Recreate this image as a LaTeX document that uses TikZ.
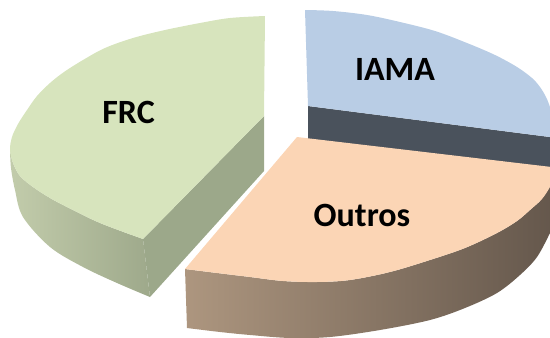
\documentclass[tikz,border=0pt]{standalone}
\usepackage{fontspec}
\setmainfont{Carlito}
\definecolor{frctop}{HTML}{D7E4BD}
\definecolor{frcrad}{HTML}{9CA88A}
\definecolor{frcsideL}{HTML}{C2CCAB}
\definecolor{frcsideR}{HTML}{9EA98B}
\definecolor{iamatop}{HTML}{B9CDE5}
\definecolor{iamarad}{HTML}{4A525C}
\definecolor{outtop}{HTML}{FBD5B5}
\definecolor{outsideL}{HTML}{AD967F}
\definecolor{outsideR}{HTML}{62554A}
\begin{document}
\begin{tikzpicture}[x=1pt,y=-1pt,
  lbl/.style={font=\fontsize{34}{40}\selectfont\bfseries, anchor=base, inner sep=0pt, text=black},
  sm/.style={smooth, tension=0.55}]
\useasboundingbox (0,0) rectangle (550,338);
\clip (0,0) rectangle (550,338);
% ---------- IAMA ----------
\coordinate (Aiama) at (308,106);
\fill[iamarad] (Aiama) -- (570,139.6) -- (570,205) -- (308,172) -- cycle;
\fill[iamatop] (Aiama) -- (305,10) -- plot[sm] coordinates {(305,10) (333,11) (367,15) (400,22) (435,31) (467,43) (495,55) (517,67) (532,78) (540,87) (546,97) (550,107) (553,117)} -- (570,117) -- (570,139.6) -- cycle;
% ---------- FRC ----------
\coordinate (Afrc) at (264,116);
\shade[left color=frcsideL, right color=frcsideR] (10,150) -- plot[sm] coordinates {(10,150) (13,163) (20,176) (33,187) (50,198) (67,207) (100,223) (143,239)} -- (150,297) -- plot[sm] coordinates {(150,297) (117,283) (83,267) (50,247) (23,217) (15,190) (11,168) (10,150)} -- cycle;
\fill[frcrad] (Afrc) -- (143,239) -- (150,297) -- (264,171) -- cycle;
\fill[frctop] (Afrc) -- (265,16) -- plot[sm] coordinates {(265,16) (230,18) (200,23) (165,30) (133,38) (105,48) (83,60) (64,72) (50,83) (37,96) (27,110) (18,124) (12,137) (10,150) (13,163) (20,176) (33,187) (50,198) (67,207) (100,223) (143,239)} -- cycle;
% ---------- Outros ----------
\coordinate (Aout) at (297,137);
\shade[left color=outsideL, right color=outsideR] (185,269) -- plot[sm] coordinates {(185,269) (217,273) (250,277) (283,281) (317,282) (350,280) (390,272) (430,260) (465,248) (497,233) (517,221) (530,210) (542,199) (550,187) (556,175)} -- (566,175) -- (566,215) -- (556,220) -- plot[sm] coordinates {(556,220) (550,233) (537,257) (520,275) (497,293) (465,308) (430,320) (380,330) (330,337) (290,338) (250,335) (220,332) (187,328)} -- cycle;
\fill[outtop] (Aout) -- (566,168.7) -- (566,175) -- (556,175) -- plot[sm] coordinates {(556,175) (550,187) (542,199) (530,210) (517,221) (497,233) (465,248) (430,260) (390,272) (350,280) (317,282) (283,281) (250,277) (217,273) (185,269)} -- cycle;
% ---------- labels ----------
\node[lbl] (frc) at (128.5,123) {FRC};
\node[lbl] (iama) at (395,80) {IAMA};
\node[lbl] (outros) at (362,226) {Outros};
\end{tikzpicture}
\end{document}
